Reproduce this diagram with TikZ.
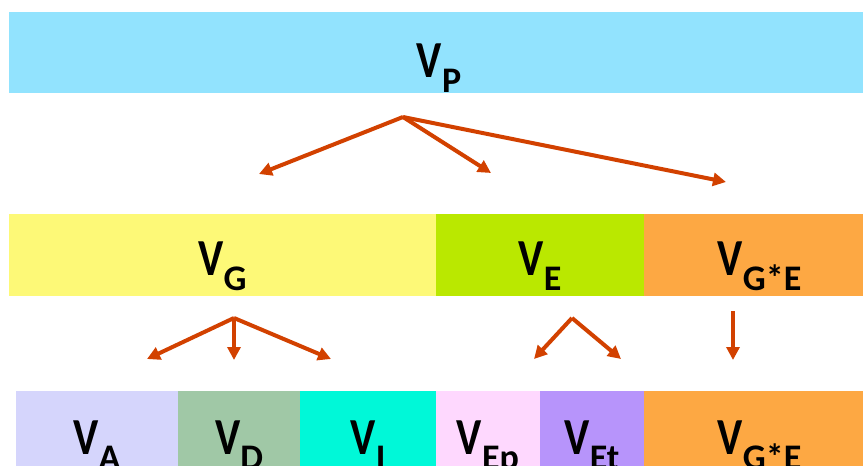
\documentclass[tikz,border=0pt]{standalone}
\usepackage{fontspec}
\setmainfont{Carlito}
\usetikzlibrary{arrows.meta}
\definecolor{pcyan}{RGB}{146,227,254}
\definecolor{gyellow}{RGB}{253,249,119}
\definecolor{elime}{RGB}{186,232,0}
\definecolor{georange}{RGB}{253,168,67}
\definecolor{alav}{RGB}{213,213,252}
\definecolor{dsage}{RGB}{160,200,166}
\definecolor{iaqua}{RGB}{0,248,216}
\definecolor{eppink}{RGB}{254,216,254}
\definecolor{etpurple}{RGB}{183,148,251}
\definecolor{arrowred}{RGB}{210,65,0}
\tikzset{bar/.style={rectangle, inner sep=0pt, outer sep=0pt, anchor=north west},
	lab/.style={anchor=base, inner sep=0pt, font=\fontsize{52}{52}\selectfont\bfseries},
	split/.style={draw=arrowred, line width=4pt, -{Triangle[length=13pt,width=13pt]}}
}
\newcommand{\vname}[1]{\scalebox{0.82}[1]{V}\raisebox{-15pt}{\fontsize{36}{36}\selectfont #1}}

\begin{document}
\begin{tikzpicture}[x=1pt, y=-1pt]
			\useasboundingbox (0,0) rectangle (863,466);
			\clip (0,0) rectangle (863,466);
			% top row
			\node[bar, fill=pcyan, minimum width=854pt, minimum height=81pt] (vp) at (9,12) {};
			\node[lab] (lp) at ([xshift=3pt, yshift=-25pt]vp.center) {\vname{P}};
			
			% middle row
			\node[bar, fill=gyellow, minimum width=427pt, minimum height=82pt] (vg) at (9,214) {};
			\node[bar, fill=elime, minimum width=208pt, minimum height=82pt] (ve) at (436,214) {};
			\node[bar, fill=georange, minimum width=219pt, minimum height=82pt] (vge) at (644,214) {};
			\node[lab] (lg) at ([yshift=-20pt]vg.center) {\vname{G}};
			\node[lab] (le) at ([yshift=-20pt]ve.center) {\vname{E}};
			\node[lab] (lge) at ([xshift=6pt, yshift=-20pt]vge.center) {\vname{G*E}};
			
			% bottom row
			\node[bar, fill=alav, minimum width=162pt, minimum height=75pt] (va) at (16,391) {};
			\node[bar, fill=dsage, minimum width=122pt, minimum height=75pt] (vd) at (178,391) {};
			\node[bar, fill=iaqua, minimum width=136pt, minimum height=75pt] (vi) at (300,391) {};
			\node[bar, fill=eppink, minimum width=104pt, minimum height=75pt] (vep) at (436,391) {};
			\node[bar, fill=etpurple, minimum width=104pt, minimum height=75pt] (vet) at (540,391) {};
			\node[bar, fill=georange, minimum width=219pt, minimum height=75pt] (vge2) at (644,391) {};
			\node[lab] (la) at ([yshift=-25.5pt]va.center) {\vname{A}};
			\node[lab] (ld) at ([yshift=-25.5pt]vd.center) {\vname{D}};
			\node[lab] (li) at ([yshift=-25.5pt]vi.center) {\vname{I}};
			\node[lab] (lep) at ([yshift=-25.5pt]vep.center) {\vname{Ep}};
			\node[lab] (let) at ([yshift=-25.5pt]vet.center) {\vname{Et}};
			\node[lab] (lge2) at ([xshift=6pt, yshift=-25.5pt]vge2.center) {\vname{G*E}};
			
			% arrow ends
			\coordinate (pfork) at (403,117);
			\coordinate (tog) at (259,174);
			\coordinate (toe) at (491,173);
			\coordinate (toge) at (726,182);
			\coordinate (gfork) at (234,318);
			\coordinate (toa) at (147,359);
			\coordinate (tod) at (234,360);
			\coordinate (toi) at (331,359);
			\coordinate (efork) at (572,318);
			\coordinate (toep) at (534,359);
			\coordinate (toet) at (621,359);
			\coordinate (gestart) at (733,311);
			\coordinate (toge2) at (733,360);
			
			% draw lines
			\draw[split] (pfork) -- (tog);
			\draw[split] (pfork) -- (toe);
			\draw[split] (pfork) -- (toge);
			\draw[split] (gfork) -- (toa);
			\draw[split] (gfork) -- (tod);
			\draw[split] (gfork) -- (toi);
			\draw[split] (efork) -- (toep);
			\draw[split] (efork) -- (toet);
			\draw[split] (gestart) -- (toge2);
		\end{tikzpicture}
\end{document}
